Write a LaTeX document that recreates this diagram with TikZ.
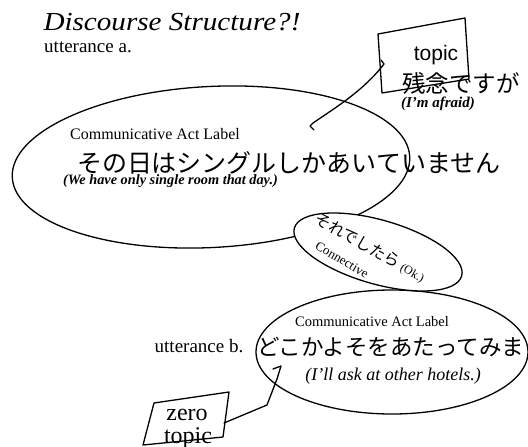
\documentclass[tikz,border=0pt]{standalone}
\usepackage{fontspec}
\setmainfont{Liberation Serif}
\newfontfamily\hsans{Liberation Sans}
\newfontfamily\jp{Noto Sans CJK JP}
\usetikzlibrary{shapes.geometric}
\tikzset{
  lbl/.style={inner sep=0pt, outer sep=0pt},
  bubble/.style={draw, ellipse, line width=1.3pt, inner sep=0pt},
  hand/.style={line width=1.3pt, line cap=round, line join=round},
}
\newcommand{\fs}[1]{\fontsize{#1}{#1}\selectfont}
\begin{document}
\begin{tikzpicture}[x=1pt, y=-1pt]
\useasboundingbox (0,0) rectangle (528,447);

% title and labels
\node[lbl, xscale=1.12] (title) at (172,22) {\fs{26}\itshape Discourse Structure?!};
\node[lbl] (utta) at (88,47) {\fs{19}utterance a.};

% utterance a ellipse
\node[bubble, minimum width=398pt, minimum height=161pt, rotate=3] (ella) at (211,167) {};
\node[lbl] (cala) at (155,134) {\fs{16}Communicative Act Label};
\node[lbl, anchor=west] (jpa) at (77,163) {\fs{25}\jp その日はシングルしかあいていません};
\node[lbl, anchor=west] (ena) at (63,181) {\fs{14.3}\bfseries\itshape (We have only single room that day.)};

% topic box
\coordinate (tA) at (378,34);
\coordinate (tB) at (465,18);
\coordinate (tC) at (469,79);
\coordinate (tD) at (382,93);
\draw[hand] (tA) -- (tB) -- (tC) -- (tD) -- cycle;
\node[lbl] (topic) at (436,55) {\fs{21}\hsans topic};
\node[lbl] (zannen) at (461,83) {\fs{23.5}\jp 残念ですが};
\node[lbl] (afraid) at (438,104) {\fs{15}\bfseries\itshape (I'm afraid)};
\coordinate (ts) at (381,60);
\coordinate (te) at (314,130);
\draw[hand] (ts) -- (384,64) .. controls (364,90) and (338,106) .. (313,123) -- (310,126) -- (te);

% utterance b ellipse
\node[bubble, fill=white, minimum width=272pt, minimum height=124pt] (ellb) at (392,352) {};
\node[lbl] (calb) at (372,322) {\fs{14.5}Communicative Act Label};
\node[lbl] (uttb) at (199,346) {\fs{19}utterance b.};
\node[lbl, anchor=west] (jpb) at (257,347) {\fs{22.5}\jp どこかよそをあたってみま};
\node[lbl] (enb) at (393,376) {\fs{18}\itshape (I'll ask at other hotels.)};

% connective ellipse
\node[bubble, fill=white, minimum width=174pt, minimum height=64pt, rotate=-16] (con) at (378,252) {};
\node[lbl, rotate=-29] (conjp) at (370,248) {\fs{16}\jp それでしたら\,\fs{12}\rmfamily(Ok.)};
\node[lbl, rotate=-31] (conlbl) at (342,260) {\fs{13}Connective};

% zero topic box
\coordinate (zA) at (154,403);
\coordinate (zB) at (229,392);
\coordinate (zC) at (223,437);
\coordinate (zD) at (143,445);
\draw[hand] (zA) -- (zB) -- (zC) -- (zD) -- cycle;
\node[lbl] (zero) at (187,415) {\fs{24}zero};
\node[lbl] (ztopic) at (188,438) {\fs{24}topic};
\coordinate (zs) at (224,423);
\coordinate (ze) at (273,369);
\draw[hand] (zs) -- (267,405) -- (277,379) -- (281,366) -- (ze);
\end{tikzpicture}
\end{document}
